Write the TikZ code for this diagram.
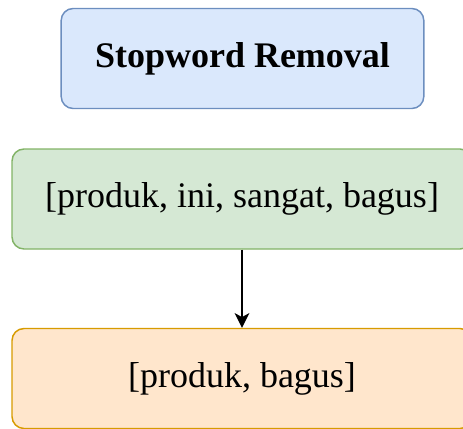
\documentclass[tikz,border=0pt]{standalone}
\usepackage{fontspec}
\setmainfont{Liberation Serif}
\usetikzlibrary{arrows.meta}

\definecolor{bluefill}{HTML}{DAE8FC}
\definecolor{blueline}{HTML}{6C8EBF}
\definecolor{greenfill}{HTML}{D5E8D4}
\definecolor{greenline}{HTML}{82B366}
\definecolor{orangefill}{HTML}{FFE6CC}
\definecolor{orangeline}{HTML}{D79B00}

\begin{document}
\begin{tikzpicture}[x=0.75pt,y=-0.75pt,
  box/.style={rounded corners=9pt, line width=1.1pt, minimum height=75pt,
    inner sep=0pt, font=\fontsize{27}{32}\selectfont}]
\useasboundingbox (0,0) rectangle (463,428);
\clip (0,0) rectangle (463,428);

\node[box, draw=blueline, fill=bluefill, minimum width=272pt] (step) at (242.5,58.5) {\textbf{Stopword Removal}};
\node[box, draw=greenline, fill=greenfill, minimum width=345pt] (tokens) at (242,199) {[produk, ini, sangat, bagus]};
\node[box, draw=orangeline, fill=orangefill, minimum width=345pt] (result) at (242,378.5) {[produk, bagus]};

\draw[line width=1.2pt, -{Stealth[length=11pt,width=11pt,inset=3pt]}] (tokens) -- (result);
\end{tikzpicture}
\end{document}
